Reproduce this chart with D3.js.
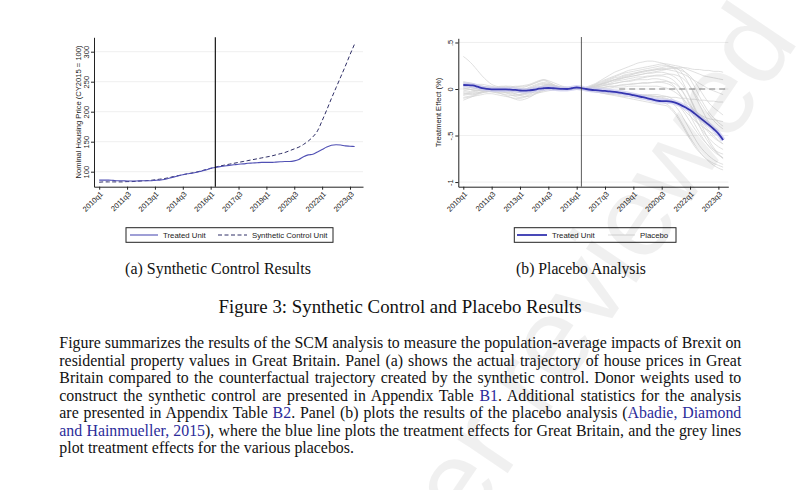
<!DOCTYPE html>
<html><head><meta charset="utf-8">
<script src="https://cdn.jsdelivr.net/npm/d3@7"></script>
<style>body{margin:0;background:#fff}svg{display:block}</style>
</head><body><svg id="c" width="800" height="490"></svg>
<script>
// ---------- data ----------
const tickLabels = ["2010q1","2011q3","2013q1","2014q3","2016q1","2017q3","2019q1","2020q3","2022q1","2023q3"];
const tickIndex  = [0,6,12,18,24,30,36,42,48,54];
const treatIndex = 25; // 2016q2
const priceTicks = [100,150,200,250,300];
const effectTicks = [0.5,0,-0.5,-1];
const effectTickLabels = [".5","0","-.5","-1"];

// quarterly, 2010q1 .. 2023q4
const treated = [86,86,86,85.5,85,85, 84.5,84.5,84.5,85,85,85, 85.5,86,87,89,91,93, 95,96.5,97.5,99,101,103,
  105.5,107,108.5,109.5,110.5,111.5, 112.5,113,114,114.5,115,115.5, 115.5,115.5,116,116.5,117,117,
  118,120.5,125,128,129,133, 137,141,144,145,144.5,143,142.5,142];
const synthetic = [82.5,83,83,83,83,83, 83.5,83.5,84,84.5,85,85.5, 86.5,87.5,88.5,90,92,93.5, 95,96.5,98,99.5,101.5,103.5,
  105.5,107.5,109.5,111,112.5,114, 115.5,117,118.5,120,121.5,123, 124.5,126,128,130,132,135,
  138,141,145.5,151,158,168, 185,203,222,240,258,276,295,313];
const effectGB = [0.043,0.042,0.038,0.025,0.01,0.002, -0.003,-0.004,-0.004,-0.004,-0.006,-0.01,
  -0.016,-0.018,-0.014,-0.008,0.003,0.008, 0.011,0.008,0.004,0.001,0.0,0.008, 0.016,0.01,
  0.0,-0.008,-0.013,-0.017, -0.021,-0.025,-0.031,-0.038,-0.046,-0.055, -0.066,-0.077,-0.088,-0.1,-0.112,-0.124,
  -0.13,-0.131,-0.135,-0.148,-0.17,-0.197, -0.226,-0.265,-0.305,-0.345,-0.385,-0.43,-0.48,-0.549];

const placebo01 = [0.35,0.31,0.26,0.2,0.14,0.09,0.05,0.03,0.02,0.01,0.0,-0.01,-0.02,-0.02,-0.01,0.0,0.01,0.02,0.02,0.01,0.01,0.0,0.0,0.01,0.01,0.0,
  0.01,0.02,0.03,0.05,0.06,0.08,0.09,0.1,0.12,0.13,0.14,0.15,0.16,0.17,0.17,0.18,0.18,0.17,0.15,0.12,0.07,0.0,-0.1,-0.22,-0.34,-0.45,-0.55,-0.63,-0.7,-0.75];
const placebo02 = [0.08,0.07,0.06,0.04,0.02,0.0,-0.02,-0.03,-0.03,-0.02,-0.01,0.0,0.01,0.02,0.04,0.06,0.08,0.1,0.09,0.07,0.05,0.03,0.02,0.01,0.01,0.0,
  0.02,0.04,0.06,0.09,0.12,0.15,0.18,0.2,0.22,0.24,0.26,0.28,0.29,0.3,0.3,0.29,0.28,0.26,0.24,0.22,0.2,0.18,0.14,0.08,0.0,-0.08,-0.15,-0.2,-0.24,-0.28];
const placebo03 = [-0.05,-0.04,-0.03,-0.02,-0.01,0.0,0.01,0.02,0.03,0.03,0.02,0.01,0.0,0.0,0.01,0.03,0.05,0.06,0.05,0.04,0.03,0.02,0.01,0.01,0.0,0.0,
  0.01,0.02,0.04,0.05,0.07,0.08,0.1,0.11,0.12,0.13,0.14,0.15,0.16,0.17,0.18,0.19,0.2,0.21,0.22,0.22,0.23,0.23,0.22,0.21,0.21,0.2,0.2,0.19,0.19,0.18];
const placebo04 = [-0.1,-0.09,-0.08,-0.07,-0.06,-0.05,-0.05,-0.06,-0.07,-0.08,-0.09,-0.1,-0.1,-0.09,-0.07,-0.05,-0.03,-0.01,0.0,0.0,-0.01,-0.01,0.0,0.0,0.0,0.0,
  -0.01,-0.02,-0.03,-0.04,-0.05,-0.06,-0.06,-0.07,-0.08,-0.08,-0.09,-0.1,-0.1,-0.11,-0.12,-0.13,-0.14,-0.16,-0.2,-0.26,-0.34,-0.43,-0.52,-0.6,-0.67,-0.73,-0.78,-0.82,-0.85,-0.87];
const placebo05 = [0.05,0.06,0.05,0.04,0.03,0.02,0.0,-0.01,-0.02,-0.03,-0.04,-0.05,-0.06,-0.05,-0.03,-0.01,0.01,0.03,0.04,0.03,0.02,0.01,0.0,0.01,0.01,0.0,
  0.0,0.01,0.02,0.03,0.04,0.05,0.06,0.07,0.08,0.08,0.09,0.1,0.1,0.1,0.11,0.11,0.1,0.09,0.06,0.01,-0.07,-0.17,-0.28,-0.38,-0.47,-0.55,-0.62,-0.67,-0.71,-0.74];
const placebo06 = [-0.12,-0.1,-0.08,-0.06,-0.04,-0.03,-0.02,-0.02,-0.03,-0.04,-0.05,-0.06,-0.07,-0.08,-0.08,-0.06,-0.04,-0.02,0.0,0.01,0.01,0.0,0.0,0.0,0.0,0.0,
  -0.01,-0.01,-0.02,-0.02,-0.03,-0.03,-0.04,-0.04,-0.05,-0.05,-0.06,-0.06,-0.07,-0.07,-0.08,-0.08,-0.09,-0.1,-0.12,-0.15,-0.19,-0.24,-0.29,-0.34,-0.38,-0.42,-0.45,-0.48,-0.5,-0.52];
const placebo07 = [0.02,0.03,0.04,0.05,0.05,0.04,0.03,0.02,0.01,0.0,0.0,-0.01,-0.02,-0.03,-0.02,0.0,0.02,0.04,0.05,0.04,0.02,0.01,0.0,0.0,0.0,0.0,
  0.01,0.03,0.05,0.07,0.09,0.11,0.13,0.15,0.17,0.18,0.19,0.2,0.21,0.22,0.23,0.24,0.25,0.25,0.24,0.2,0.12,0.02,-0.09,-0.2,-0.3,-0.38,-0.45,-0.5,-0.55,-0.59];
const placebo08 = [-0.03,-0.03,-0.02,-0.02,-0.01,-0.01,0.0,0.01,0.02,0.03,0.03,0.02,0.01,-0.01,-0.03,-0.04,-0.04,-0.03,-0.02,-0.01,0.0,0.0,0.0,0.0,0.0,0.0,
  -0.01,-0.02,-0.03,-0.04,-0.04,-0.05,-0.05,-0.05,-0.06,-0.06,-0.06,-0.06,-0.07,-0.07,-0.07,-0.08,-0.08,-0.08,-0.09,-0.09,-0.1,-0.1,-0.11,-0.11,-0.12,-0.12,-0.13,-0.13,-0.14,-0.14];
const placebo09 = [0.0,0.01,0.02,0.02,0.01,0.0,-0.01,-0.03,-0.05,-0.07,-0.09,-0.11,-0.12,-0.11,-0.09,-0.06,-0.03,-0.01,0.0,0.01,0.0,0.0,-0.01,0.0,0.0,0.0,
  0.0,0.01,0.02,0.03,0.04,0.05,0.06,0.07,0.08,0.09,0.1,0.11,0.12,0.13,0.14,0.15,0.15,0.16,0.16,0.15,0.13,0.09,0.03,-0.05,-0.13,-0.21,-0.28,-0.34,-0.39,-0.43];
const placebo10 = [-0.07,-0.06,-0.06,-0.05,-0.04,-0.03,-0.02,-0.01,0.0,0.01,0.02,0.03,0.03,0.04,0.05,0.07,0.09,0.1,0.08,0.05,0.03,0.01,0.0,0.0,0.0,0.0,
  0.0,0.0,0.01,0.01,0.02,0.03,0.03,0.04,0.05,0.05,0.06,0.06,0.07,0.07,0.07,0.08,0.08,0.08,0.07,0.05,0.0,-0.08,-0.18,-0.29,-0.4,-0.5,-0.58,-0.65,-0.7,-0.74];
const placebo11 = [0.06,0.05,0.04,0.03,0.02,0.02,0.01,0.0,-0.01,-0.02,-0.02,-0.03,-0.03,-0.02,-0.01,0.0,0.01,0.01,0.0,-0.01,-0.01,0.0,0.0,0.0,0.0,0.0,
  0.0,0.02,0.04,0.06,0.08,0.1,0.12,0.13,0.15,0.16,0.17,0.18,0.19,0.2,0.2,0.21,0.21,0.21,0.2,0.19,0.17,0.15,0.12,0.09,0.06,0.03,0.0,-0.02,-0.04,-0.06];
const placebo12 = [-0.09,-0.08,-0.07,-0.05,-0.03,-0.01,0.0,0.01,0.0,-0.01,-0.03,-0.05,-0.07,-0.06,-0.05,-0.03,-0.02,-0.01,0.0,0.0,0.0,-0.01,-0.01,0.0,0.0,0.0,
  -0.01,-0.02,-0.03,-0.04,-0.05,-0.06,-0.07,-0.08,-0.09,-0.1,-0.11,-0.12,-0.13,-0.14,-0.15,-0.16,-0.17,-0.18,-0.22,-0.28,-0.36,-0.45,-0.54,-0.62,-0.68,-0.73,-0.77,-0.8,-0.82,-0.84];
const placebo13 = [0.03,0.02,0.01,0.0,-0.01,-0.02,-0.02,-0.02,-0.01,0.0,0.01,0.02,0.03,0.03,0.04,0.06,0.08,0.09,0.07,0.05,0.03,0.02,0.01,0.0,0.0,0.0,
  0.01,0.02,0.03,0.05,0.06,0.08,0.1,0.11,0.13,0.14,0.16,0.17,0.18,0.19,0.2,0.21,0.22,0.22,0.23,0.23,0.22,0.18,0.11,0.02,-0.08,-0.17,-0.25,-0.31,-0.36,-0.4];
const placebo14 = [-0.04,-0.05,-0.05,-0.04,-0.03,-0.02,-0.01,0.0,0.0,-0.01,-0.02,-0.03,-0.04,-0.04,-0.03,-0.01,0.01,0.02,0.02,0.01,0.0,0.0,0.0,0.0,0.0,0.0,
  0.0,0.01,0.01,0.02,0.02,0.03,0.03,0.04,0.04,0.05,0.05,0.06,0.06,0.06,0.07,0.07,0.07,0.06,0.04,0.0,-0.06,-0.14,-0.23,-0.32,-0.4,-0.47,-0.53,-0.58,-0.62,-0.65];
const placebo15 = [0.07,0.06,0.04,0.02,0.0,-0.02,-0.03,-0.04,-0.04,-0.04,-0.03,-0.02,-0.01,0.0,0.02,0.04,0.06,0.07,0.06,0.04,0.02,0.01,0.0,0.0,0.0,0.0,
  0.01,0.03,0.05,0.08,0.1,0.12,0.14,0.16,0.18,0.2,0.21,0.22,0.23,0.24,0.25,0.26,0.27,0.27,0.26,0.25,0.24,0.22,0.2,0.18,0.16,0.14,0.13,0.12,0.11,0.1];
const placebo16 = [-0.06,-0.05,-0.04,-0.04,-0.03,-0.03,-0.03,-0.04,-0.05,-0.06,-0.07,-0.07,-0.06,-0.05,-0.03,-0.01,0.01,0.03,0.03,0.02,0.01,0.0,0.0,0.0,0.0,0.0,
  -0.01,-0.02,-0.03,-0.03,-0.04,-0.04,-0.04,-0.05,-0.05,-0.05,-0.05,-0.06,-0.06,-0.06,-0.06,-0.06,-0.07,-0.08,-0.1,-0.14,-0.2,-0.27,-0.35,-0.43,-0.5,-0.56,-0.61,-0.65,-0.68,-0.7];
const placebo17 = [0.01,0.0,-0.01,-0.02,-0.02,-0.01,0.0,0.01,0.02,0.01,0.0,-0.02,-0.04,-0.05,-0.04,-0.02,0.0,0.02,0.03,0.02,0.01,0.0,0.0,0.0,0.0,0.0,
  0.0,0.01,0.02,0.04,0.05,0.06,0.08,0.09,0.1,0.11,0.12,0.13,0.13,0.14,0.14,0.14,0.14,0.13,0.11,0.07,0.01,-0.07,-0.16,-0.25,-0.33,-0.41,-0.47,-0.52,-0.56,-0.59];
const placebo18 = [0.04,0.04,0.03,0.03,0.03,0.02,0.02,0.01,0.0,-0.01,-0.01,-0.02,-0.02,-0.01,0.0,0.02,0.04,0.05,0.04,0.03,0.02,0.01,0.0,0.0,0.0,0.0,
  0.0,0.0,0.0,0.01,0.01,0.01,0.02,0.02,0.02,0.03,0.03,0.03,0.03,0.03,0.03,0.03,0.02,0.01,-0.01,-0.04,-0.08,-0.13,-0.18,-0.23,-0.27,-0.3,-0.32,-0.33,-0.34,-0.35];
const placebo19 = [-0.02,-0.01,0.0,0.01,0.02,0.02,0.01,0.0,-0.02,-0.04,-0.06,-0.08,-0.09,-0.08,-0.06,-0.03,0.0,0.03,0.05,0.04,0.02,0.01,0.0,0.0,0.0,0.0,
  0.0,0.02,0.03,0.05,0.07,0.09,0.1,0.12,0.14,0.15,0.16,0.18,0.19,0.2,0.21,0.22,0.23,0.24,0.24,0.23,0.19,0.12,0.03,-0.07,-0.17,-0.27,-0.36,-0.43,-0.49,-0.54];
const placebo20 = [0.0,0.0,-0.01,-0.01,-0.02,-0.02,-0.02,-0.02,-0.02,-0.01,-0.01,0.0,0.0,0.0,0.01,0.02,0.02,0.02,0.01,0.01,0.0,0.0,0.0,0.0,0.0,0.0,
  -0.01,-0.01,-0.02,-0.02,-0.03,-0.03,-0.04,-0.04,-0.05,-0.05,-0.06,-0.06,-0.07,-0.07,-0.08,-0.09,-0.1,-0.11,-0.14,-0.19,-0.26,-0.35,-0.44,-0.53,-0.61,-0.67,-0.72,-0.76,-0.79,-0.81];
const placeboSeries = [placebo01,placebo02,placebo03,placebo04,placebo05,placebo06,placebo07,placebo08,placebo09,placebo10,
  placebo11,placebo12,placebo13,placebo14,placebo15,placebo16,placebo17,placebo18,placebo19,placebo20];

const legendA = ["Treated Unit","Synthetic Control Unit"];
const legendB = ["Treated Unit","Placebo"];
const yTitleA = "Nominal Housing Price (CY2015 = 100)";
const yTitleB = "Treatment Effect (%)";
const capA = "(a) Synthetic Control Results";
const capB = "(b) Placebo Analysis";
const figCap = "Figure 3: Synthetic Control and Placebo Results";
const paragraph = [
  [["Figure summarizes the results of the SCM analysis to measure the population-average impacts of Brexit on",0]],
  [["residential property values in Great Britain. Panel (a) shows the actual trajectory of house prices in Great",0]],
  [["Britain compared to the counterfactual trajectory created by the synthetic control. Donor weights used to",0]],
  [["construct the synthetic control are presented in Appendix Table ",0],["B1",1],[". Additional statistics for the analysis",0]],
  [["are presented in Appendix Table ",0],["B2",1],[". Panel (b) plots the results of the placebo analysis (",0],["Abadie, Diamond",1]],
  [["and Hainmueller, 2015",1],["), where the blue line plots the treatment effects for Great Britain, and the grey lines",0]],
  [["plot treatment effects for the various placebos.",0]]
];

// ---------- drawing ----------
const svg = d3.select('#c');
svg.append('rect').attr('width',800).attr('height',490).attr('fill','#fff');
const SANS = '"Liberation Sans", Arial, sans-serif';
const SERIF = '"Liberation Serif", "Times New Roman", serif';
const axisCol = '#222';

function drawAxes(g, x, y, yticks, ylabels, ytitle, titleX) {
  // gridlines
  g.append('g').selectAll('line').data(yticks).join('line')
    .attr('x1', x.range()[0]).attr('x2', x.range()[1])
    .attr('y1', d=>y(d)).attr('y2', d=>y(d))
    .attr('stroke', '#ebebeb').attr('stroke-width', 0.8);
  const ya = g.append('g').attr('transform', `translate(${x.range()[0]},0)`)
    .call(d3.axisLeft(y).tickValues(yticks).tickSize(3).tickSizeOuter(0).tickFormat((d,i)=>ylabels[i]));
  ya.select('.domain').attr('stroke', axisCol);
  ya.selectAll('.tick line').attr('stroke', axisCol);
  ya.selectAll('.tick text').attr('x',0).attr('y',-5).attr('dy',0)
    .attr('transform','rotate(-90)').attr('text-anchor','middle')
    .attr('font-family',SANS).attr('font-size',7.5).attr('fill','#222');
  const xa = g.append('g').attr('transform', `translate(0,${y.range()[0]})`)
    .call(d3.axisBottom(x).tickValues(tickIndex).tickSize(3).tickSizeOuter(0).tickFormat((d,i)=>tickLabels[i]));
  xa.select('.domain').attr('stroke', axisCol);
  xa.selectAll('.tick line').attr('stroke', axisCol);
  xa.selectAll('.tick text').attr('x',0).attr('y',0).attr('dy','0.35em')
    .attr('transform','translate(2,6) rotate(-45)').attr('text-anchor','end')
    .attr('font-family',SANS).attr('font-size',7.5).attr('fill','#222');
  const yMid = (y.range()[0]+y.range()[1])/2;
  g.append('text').attr('transform',`translate(${titleX},${yMid}) rotate(-90)`)
    .attr('text-anchor','middle').attr('font-family',SANS).attr('font-size',7.6).attr('fill','#222')
    .text(ytitle);
}

// Panel A
const xA = d3.scaleLinear().domain([-1.12, 56.8]).range([94, 363]);
const yA = d3.scaleLinear().domain([75, 324]).range([186.7, 37.3]);
const gA = svg.append('g');
drawAxes(gA, xA, yA, priceTicks, priceTicks.map(String), yTitleA, 81);
const lineA = d3.line().x((d,i)=>xA(i)).y(d=>yA(d)).curve(d3.curveMonotoneX);
gA.append('path').datum(synthetic).attr('d', lineA).attr('fill','none')
  .attr('stroke','#2e2e66').attr('stroke-width',1).attr('stroke-dasharray','4,2.5');
gA.append('path').datum(treated).attr('d', lineA).attr('fill','none')
  .attr('stroke','#5050b4').attr('stroke-width',1.1);
gA.append('line').attr('x1',xA(treatIndex)).attr('x2',xA(treatIndex))
  .attr('y1',37.3).attr('y2',yA.range()[0]).attr('stroke','#000').attr('stroke-width',1.1);

// Panel B
const xB = d3.scaleLinear().domain([-1.06, 56.1]).range([458.3, 728.3]);
const yB = d3.scaleLinear().domain([-1.05, 0.545]).range([186.7, 38.3]);
const gB = svg.append('g');
drawAxes(gB, xB, yB, effectTicks, effectTickLabels, yTitleB, 441);
const lineB = d3.line().x((d,i)=>xB(i)).y(d=>yB(d)).curve(d3.curveMonotoneX);
gB.append('g').selectAll('path').data(placeboSeries).join('path')
  .attr('d', lineB).attr('fill','none').attr('stroke','#d2d2d2').attr('stroke-width',0.7);
gB.append('line').attr('x1',xB(33)).attr('x2',xB.range()[1])
  .attr('y1',yB(0)).attr('y2',yB(0)).attr('stroke','#808080').attr('stroke-width',1)
  .attr('stroke-dasharray','6,4');
gB.append('path').datum(effectGB).attr('d', lineB).attr('fill','none')
  .attr('stroke','#c9c9ef').attr('stroke-width',5).attr('stroke-opacity',0.7);
gB.append('path').datum(effectGB).attr('d', lineB).attr('fill','none')
  .attr('stroke','#3535b0').attr('stroke-width',1.8);
gB.append('line').attr('x1',xB(treatIndex)).attr('x2',xB(treatIndex))
  .attr('y1',37).attr('y2',yB.range()[0]).attr('stroke','#333').attr('stroke-width',0.8);

// Legends
function legend(x0, x1, y0, y1, items) {
  const g = svg.append('g');
  g.append('rect').attr('x',x0).attr('y',y0).attr('width',x1-x0).attr('height',y1-y0)
    .attr('fill','#fff').attr('stroke','#222').attr('stroke-width',1);
  const ym = (y0+y1)/2;
  items.forEach(it=>{
    g.append('line').attr('x1',it.l0).attr('x2',it.l1).attr('y1',ym).attr('y2',ym)
      .attr('stroke',it.color).attr('stroke-width',it.w).attr('stroke-dasharray',it.dash||null);
    g.append('text').attr('x',it.tx).attr('y',ym).attr('dy','0.35em')
      .attr('font-family',SANS).attr('font-size',7.8).attr('fill','#222').text(it.label);
  });
}
legend(126, 333, 227.7, 242.3, [
  {l0:130,l1:158,color:'#5050b4',w:1.1,tx:163,label:legendA[0]},
  {l0:218,l1:247,color:'#2e2e66',w:1,dash:'4,2.5',tx:252,label:legendA[1]}
]);
legend(514.3, 676, 227.7, 242.3, [
  {l0:517,l1:547,color:'#3535b0',w:1.8,tx:552,label:legendB[0]},
  {l0:608,l1:635,color:'#d2d2d2',w:0.8,tx:640,label:legendB[1]}
]);

// Captions
function fitText(txt, cx, by, width, anchor) {
  const t = svg.append('text').attr('x',cx).attr('y',by).attr('text-anchor',anchor||'middle')
    .attr('font-family',SERIF).attr('font-size',13).attr('fill','#111').text(txt);
  const w = t.node().getComputedTextLength();
  t.attr('font-size', 13*width/w);
  return t;
}
fitText(capA, 218, 274, 186);
fitText(capB, 581, 274, 130);
fitText(figCap, 400, 313, 363);

// Paragraph (justified)
const pX = 59.3, pW = 682;
const probe = svg.append('text').attr('font-family',SERIF).attr('font-size',13).text(paragraph[6][0][0]);
const pSize = 13*295/probe.node().getComputedTextLength();
probe.remove();
paragraph.forEach((segs,i)=>{
  const t = svg.append('text').attr('x',pX).attr('y',348.3+17.5*i)
    .attr('font-family',SERIF).attr('font-size',pSize).attr('fill','#111')
    .style('white-space','pre');
  segs.forEach(s=>t.append('tspan').attr('fill', s[1] ? '#2b2b9a' : '#111').text(s[0]));
  if (i < paragraph.length-1) {
    const w = t.node().getComputedTextLength();
    const full = segs.map(s=>s[0]).join('');
    const n = (full.match(/ /g)||[]).length;
    t.attr('word-spacing', (pW - w)/n);
  }
});

// Watermark
svg.append('text').attr('transform','translate(800,40) rotate(-56)')
  .attr('text-anchor','end').attr('font-family',SANS).attr('font-size',115)
  .attr('fill','#000').attr('fill-opacity',0.06).text('Preprint not peer reviewed');
</script></body></html>
